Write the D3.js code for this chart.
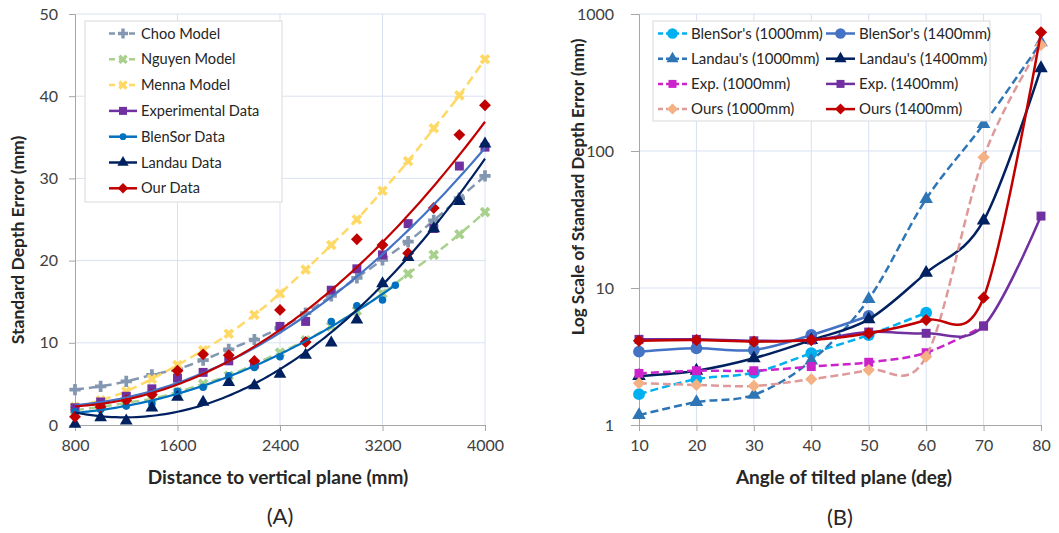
<!DOCTYPE html>
<html>
<head>
<meta charset="utf-8">
<script src="https://cdn.jsdelivr.net/npm/d3@7"></script>
<style>
  body { margin: 0; background: #fff; }
  svg text { font-family: Lato, "Open Sans", sans-serif; }
</style>
</head>
<body>
<svg id="fig" width="1059" height="533"></svg>
<script>
// ---------- panel (A): error vs distance ----------
const distances = [800, 1000, 1200, 1400, 1600, 1800, 2000, 2200, 2400, 2600, 2800, 3000, 3200, 3400, 3600, 3800, 4000];
const chooModel   = [4.3, 4.7, 5.3, 6.1, 6.8, 7.9, 9.2, 10.4, 11.8, 13.6, 15.7, 17.9, 20.1, 22.3, 24.9, 27.6, 30.3];
const nguyenModel = [1.8, 2.2, 2.7, 3.2, 4.0, 5.0, 6.0, 7.4, 8.8, 10.3, 12.0, 13.9, 16.0, 18.4, 20.7, 23.2, 25.9];
const mennaModel  = [2.2, 3.0, 4.1, 5.6, 7.3, 9.1, 11.1, 13.4, 16.0, 18.9, 21.9, 25.0, 28.5, 32.1, 36.1, 40.1, 44.5];
const expData     = [2.1, 2.8, 3.5, 4.4, 5.7, 6.4, 7.8, 7.4, 12.0, 12.6, 16.4, 19.0, 20.7, 24.5, 23.9, 31.5, 33.8];
const blensorDist = [800, 1000, 1200, 1400, 1600, 1800, 2000, 2200, 2400, 2600, 2800, 3000, 3200, 3300];
const blensorData = [1.6, 1.9, 2.3, 2.6, 4.1, 4.6, 6.0, 7.0, 8.3, 10.2, 12.6, 14.5, 15.2, 17.0];
const landauData  = [0.1, 0.9, 0.5, 2.1, 3.4, 2.8, 5.2, 4.8, 6.2, 8.5, 10.0, 12.8, 17.2, 20.4, 23.9, 27.2, 34.2];
const ourData     = [1.0, 2.2, 3.0, 3.7, 6.6, 8.6, 8.5, 7.8, 14.0, 10.1, null, 22.6, 21.9, 20.9, 26.4, 35.3, 38.9];
const distTicks = [800, 1600, 2400, 3200, 4000];
const errTicks = [0, 10, 20, 30, 40, 50];

// ---------- panel (B): error vs angle ----------
const angles = [10, 20, 30, 40, 50, 60, 70, 80];
const blensor1000 = [1.68, 2.16, 2.41, 3.34, 4.54, 6.6];
const blensor1400 = [3.43, 3.63, 3.53, 4.54, 6.25];
const landau1000  = [1.18, 1.47, 1.66, 2.95, 8.3, 44.6, 157, 620];
const landau1400  = [2.28, 2.49, 3.07, 4.17, 5.9, 12.9, 31, 402];
const exp1000     = [2.38, 2.49, 2.49, 2.67, 2.87, 3.37, 5.28];
const exp1400     = [4.22, 4.22, 4.12, 4.17, 4.77, 4.67, 5.28, 33.5];
const ours1000    = [2.02, 1.96, 1.93, 2.16, 2.52, 3.15, 90, 594];
const ours1400    = [4.12, 4.17, 4.06, 4.17, 4.67, 5.84, 8.5, 735];
const logTicks = [1, 10, 100, 1000];

const svg = d3.select('#fig');
const gridColor = '#D9E1F2';
const axisColor = '#A6A6A6';
const labelColor = '#404040';
const titleColor = '#262626';

// marker shapes
function markerPath(kind, size) {
    switch (kind) {
        case 'circle': return d3.symbol(d3.symbolCircle, size)();
        case 'square': return d3.symbol(d3.symbolSquare, size)();
        case 'triangle': return d3.symbol(d3.symbolTriangle, size)();
        case 'diamond': return d3.symbol(d3.symbolSquare, size)();
        case 'plus': return d3.symbol(d3.symbolCross, size)();
        case 'x': return d3.symbol(d3.symbolCross, size)();
    }
}

function drawMarker(g, kind, x, y, color, size) {
    const rot = (kind == 'x' || kind == 'diamond') ? ' rotate(45)' : '';
    g.append('path')
        .attr('d', markerPath(kind, size))
        .attr('transform', `translate(${x},${y})` + rot)
        .attr('fill', color);
}

// quadratic least squares fit (Excel polynomial trendline, order 2)
function polyfit2(xs, ys) {
    let s = [0, 0, 0, 0, 0], t = [0, 0, 0];
    xs.forEach((x0, i) => {
        const x = x0 / 1000, y = ys[i];
        for (let k = 0; k < 5; k++) s[k] += Math.pow(x, k);
        for (let k = 0; k < 3; k++) t[k] += y * Math.pow(x, k);
    });
    const m = [[s[0], s[1], s[2], t[0]], [s[1], s[2], s[3], t[1]], [s[2], s[3], s[4], t[2]]];
    for (let i = 0; i < 3; i++) {
        for (let j = i + 1; j < 3; j++) {
            const f = m[j][i] / m[i][i];
            for (let k = i; k < 4; k++) m[j][k] -= f * m[i][k];
        }
    }
    const c = [0, 0, 0];
    for (let i = 2; i >= 0; i--) {
        let v = m[i][3];
        for (let k = i + 1; k < 3; k++) v -= m[i][k] * c[k];
        c[i] = v / m[i][i];
    }
    return x => { const u = x / 1000; return c[0] + c[1] * u + c[2] * u * u; };
}

// ================= PANEL A =================
const xA = d3.scaleLinear().domain([800, 4000]).range([75, 485]);
const yA = d3.scaleLinear().domain([0, 50]).range([425, 14]);
const gA = svg.append('g');

gA.selectAll('.hg').data(errTicks.slice(1)).join('line')
    .attr('x1', 75).attr('x2', 485).attr('y1', d => yA(d)).attr('y2', d => yA(d))
    .attr('stroke', gridColor).attr('stroke-width', 1);
gA.selectAll('.vg').data(distTicks.slice(1)).join('line')
    .attr('x1', d => xA(d)).attr('x2', d => xA(d)).attr('y1', 14).attr('y2', 425)
    .attr('stroke', gridColor).attr('stroke-width', 1);

const axA_y = gA.append('g').attr('transform', 'translate(75,0)')
    .call(d3.axisLeft(yA).tickValues(errTicks).tickSize(6).tickPadding(11));
const axA_x = gA.append('g').attr('transform', 'translate(0,425)')
    .call(d3.axisBottom(xA).tickValues(distTicks).tickFormat(d3.format('d')).tickSize(6).tickPadding(9));
[axA_y, axA_x].forEach(a => {
    a.selectAll('path,line').attr('stroke', axisColor);
    a.selectAll('text').attr('font-size', 16).attr('fill', labelColor);
});

const lineA = (xs, ys) => d3.line()
    .defined(d => d[1] != null)
    .curve(d3.curveCatmullRom)
    .x(d => xA(d[0])).y(d => yA(d[1]))(xs.map((x, i) => [x, ys[i]]));

const seriesA = [
    { name: 'Choo Model', xs: distances, ys: chooModel, color: '#8497B0', marker: 'plus', dash: true, model: true },
    { name: 'Nguyen Model', xs: distances, ys: nguyenModel, color: '#A9D18E', marker: 'x', dash: true, model: true },
    { name: 'Menna Model', xs: distances, ys: mennaModel, color: '#FFD966', marker: 'x', dash: true, model: true },
    { name: 'Experimental Data', xs: distances, ys: expData, color: '#7030A0', marker: 'square', trend: '#4472C4' },
    { name: 'BlenSor Data', xs: blensorDist, ys: blensorData, color: '#0070C0', marker: 'circle', trend: '#0070C0' },
    { name: 'Landau Data', xs: distances, ys: landauData, color: '#002060', marker: 'triangle', trend: '#002060' },
    { name: 'Our Data', xs: distances, ys: ourData, color: '#C00000', marker: 'diamond', trend: '#C00000' }
];
const sizeA = { plus: 70, x: 70, square: 80, circle: 45, triangle: 70, diamond: 70 };

seriesA.forEach(s => {
    if (s.model) {
        gA.append('path').attr('d', lineA(s.xs, s.ys))
            .attr('fill', 'none').attr('stroke', s.color).attr('stroke-width', 2.5)
            .attr('stroke-dasharray', '9,5');
    }
    s.xs.forEach((x, i) => {
        if (s.ys[i] != null) drawMarker(gA, s.marker, xA(x), yA(s.ys[i]), s.color, sizeA[s.marker]);
    });
});
// polynomial trendlines on top
seriesA.filter(s => s.trend).forEach(s => {
    const xs = [], ys = [];
    s.xs.forEach((x, i) => { if (s.ys[i] != null) { xs.push(x); ys.push(s.ys[i]); } });
    const f = polyfit2(xs, ys);
    const lo = d3.min(xs), hi = d3.max(xs);
    const pts = d3.range(0, 101).map(k => lo + (hi - lo) * k / 100);
    gA.append('path')
        .attr('d', d3.line().x(d => xA(d)).y(d => yA(f(d)))(pts))
        .attr('fill', 'none').attr('stroke', s.trend).attr('stroke-width', 2.2);
});

// legend A
const legA = gA.append('g');
legA.append('rect').attr('x', 85).attr('y', 21).attr('width', 197).attr('height', 181)
    .attr('fill', '#fff').attr('stroke', '#D9D9D9');
seriesA.forEach((s, i) => {
    const cy = 33.5 + i * 25.8;
    legA.append('line').attr('x1', 109).attr('x2', 137).attr('y1', cy).attr('y2', cy)
        .attr('stroke', s.color).attr('stroke-width', 2.5)
        .attr('stroke-dasharray', s.dash ? '6,4' : null);
    drawMarker(legA, s.marker, 123, cy, s.color, sizeA[s.marker] * 0.8);
    legA.append('text').attr('x', 141).attr('y', cy).attr('dy', '0.35em')
        .attr('font-size', 14.6).attr('fill', titleColor).text(s.name);
});

// titles A
gA.append('text').attr('x', 278).attr('y', 484).attr('text-anchor', 'middle')
    .attr('font-size', 19).attr('font-weight', 'bold').attr('fill', titleColor)
    .text('Distance to vertical plane (mm)');
gA.append('text').attr('transform', 'translate(24,240) rotate(-90)').attr('text-anchor', 'middle')
    .attr('font-size', 17.5).attr('font-weight', 'bold').attr('fill', titleColor)
    .text('Standard Depth Error (mm)');
gA.append('text').attr('x', 280).attr('y', 524).attr('text-anchor', 'middle')
    .attr('font-size', 22).attr('fill', titleColor).text('(A)');

// ================= PANEL B =================
const xB = d3.scaleLinear().domain([10, 80]).range([639, 1041]);
const yB = d3.scaleLog().domain([1, 1000]).range([425, 14]);
const gB = svg.append('g');

gB.selectAll('.hg').data(logTicks.slice(1)).join('line')
    .attr('x1', 639).attr('x2', 1041).attr('y1', d => yB(d)).attr('y2', d => yB(d))
    .attr('stroke', gridColor).attr('stroke-width', 1);
gB.selectAll('.vg').data(angles.slice(1)).join('line')
    .attr('x1', d => xB(d)).attr('x2', d => xB(d)).attr('y1', 14).attr('y2', 425)
    .attr('stroke', gridColor).attr('stroke-width', 1);

const axB_y = gB.append('g').attr('transform', 'translate(639,0)')
    .call(d3.axisLeft(yB).tickValues(logTicks).tickFormat(d3.format('d')).tickSize(8).tickPadding(17));
const axB_x = gB.append('g').attr('transform', 'translate(0,425)')
    .call(d3.axisBottom(xB).tickValues(angles).tickSize(6).tickPadding(9));
[axB_y, axB_x].forEach(a => {
    a.selectAll('path,line').attr('stroke', axisColor);
    a.selectAll('text').attr('font-size', 16).attr('fill', labelColor);
});

const seriesB = [
    { name: "BlenSor's (1000mm)", ys: blensor1000, color: '#00B0F0', mcolor: '#00B0F0', marker: 'circle', dash: true },
    { name: "BlenSor's (1400mm)", ys: blensor1400, color: '#4472C4', mcolor: '#4472C4', marker: 'circle' },
    { name: "Landau's (1000mm)", ys: landau1000, color: '#2E75B6', mcolor: '#2E75B6', marker: 'triangle', dash: true },
    { name: "Landau's (1400mm)", ys: landau1400, color: '#002060', mcolor: '#002060', marker: 'triangle' },
    { name: 'Exp. (1000mm)', ys: exp1000, color: '#CC22CC', mcolor: '#CC22CC', marker: 'square', dash: true },
    { name: 'Exp. (1400mm)', ys: exp1400, color: '#7030A0', mcolor: '#7030A0', marker: 'square' },
    { name: 'Ours (1000mm)', ys: ours1000, color: '#DE9A9A', mcolor: '#F4B183', marker: 'diamond', dash: true },
    { name: 'Ours (1400mm)', ys: ours1400, color: '#C00000', mcolor: '#C00000', marker: 'diamond' }
];
const sizeB = { circle: 110, triangle: 80, square: 80, diamond: 75 };

seriesB.forEach(s => {
    const pts = s.ys.map((v, i) => [angles[i], v]);
    gB.append('path')
        .attr('d', d3.line().curve(d3.curveCardinal.tension(0))
            .x(d => xB(d[0])).y(d => yB(d[1]))(pts))
        .attr('fill', 'none').attr('stroke', s.color).attr('stroke-width', 2.5)
        .attr('stroke-dasharray', s.dash ? '8,4' : null);
    pts.forEach(p => drawMarker(gB, s.marker, xB(p[0]), yB(p[1]), s.mcolor, sizeB[s.marker]));
});

// legend B
const legB = gB.append('g');
legB.append('rect').attr('x', 653).attr('y', 21).attr('width', 337).attr('height', 100)
    .attr('fill', '#fff').attr('stroke', '#D9D9D9');
seriesB.forEach((s, i) => {
    const col = i % 2, row = Math.floor(i / 2);
    const cy = 33.5 + row * 25.2;
    const x0 = col == 0 ? 658 : 826;
    legB.append('line').attr('x1', x0).attr('x2', x0 + 29).attr('y1', cy).attr('y2', cy)
        .attr('stroke', s.color).attr('stroke-width', 2.5)
        .attr('stroke-dasharray', s.dash ? '5,3' : null);
    drawMarker(legB, s.marker, x0 + 14.5, cy, s.mcolor, sizeB[s.marker] * 0.8);
    legB.append('text').attr('x', x0 + 33).attr('y', cy).attr('dy', '0.35em')
        .attr('font-size', 15).attr('fill', titleColor).text(s.name);
});

// titles B
gB.append('text').attr('x', 844).attr('y', 484).attr('text-anchor', 'middle')
    .attr('font-size', 19).attr('font-weight', 'bold').attr('fill', titleColor)
    .text('Angle of tilted plane (deg)');
gB.append('text').attr('transform', 'translate(584,187) rotate(-90)').attr('text-anchor', 'middle')
    .attr('font-size', 17).attr('font-weight', 'bold').attr('fill', titleColor)
    .text('Log Scale of Standard Depth Error (mm)');
gB.append('text').attr('x', 840).attr('y', 525).attr('text-anchor', 'middle')
    .attr('font-size', 22).attr('fill', titleColor).text('(B)');
</script>
</body>
</html>
